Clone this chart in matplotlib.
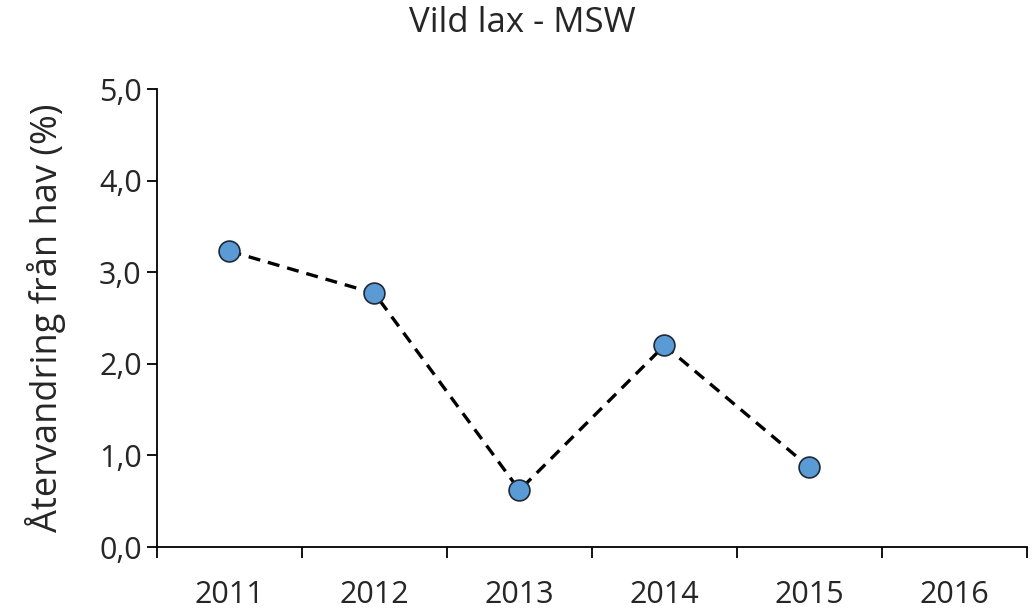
import matplotlib.pyplot as plt
import numpy as np

# Data
years = ['2011', '2012', '2013', '2014', '2015', '2016']
values = [3.23, 2.77, 0.62, 2.20, 0.87]
y_ticks = [0.0, 1.0, 2.0, 3.0, 4.0, 5.0]

plt.rcParams['font.family'] = ['Open Sans', 'DejaVu Sans']

fig = plt.figure(figsize=(10.34, 6.16), dpi=100)
ax = fig.add_axes([0.1518, 0.112, 0.8414, 0.7435])

x = np.arange(len(values))
ax.plot(x, values, linestyle=(0, (3.6, 2.4)), color='black', linewidth=2.4,
        marker='o', markersize=15, markerfacecolor='#5B9BD5',
        markeredgecolor='#1f2a36', markeredgewidth=1.2, zorder=3)

ax.set_xlim(-0.5, len(years) - 0.5)
ax.set_ylim(0, 5)
ax.set_xticks(np.arange(len(years)))
ax.set_xticklabels(years)
ax.set_xticks(np.arange(len(years) + 1) - 0.5, minor=True)
ax.tick_params(axis='x', which='major', length=0, pad=24, labelsize=22, colors='#262626')
ax.tick_params(axis='x', which='minor', length=8, width=1.3, direction='out')
ax.set_yticks(y_ticks)
ax.set_yticklabels([f'{v:.1f}'.replace('.', ',') for v in y_ticks])
ax.tick_params(axis='y', length=7, width=1.3, direction='out', labelsize=22, pad=4, colors='#262626')
ax.tick_params(axis='both', which='both', color='black')

for s in ['top', 'right']:
    ax.spines[s].set_visible(False)
for s in ['left', 'bottom']:
    ax.spines[s].set_linewidth(1.3)

ax.set_ylabel('Återvandring från hav (%)', fontsize=26, labelpad=24, color='#262626')
fig.suptitle('Vild lax - MSW', fontsize=25, x=0.505, y=0.99, color='#262626')

fig.savefig('out.png', dpi=100)
